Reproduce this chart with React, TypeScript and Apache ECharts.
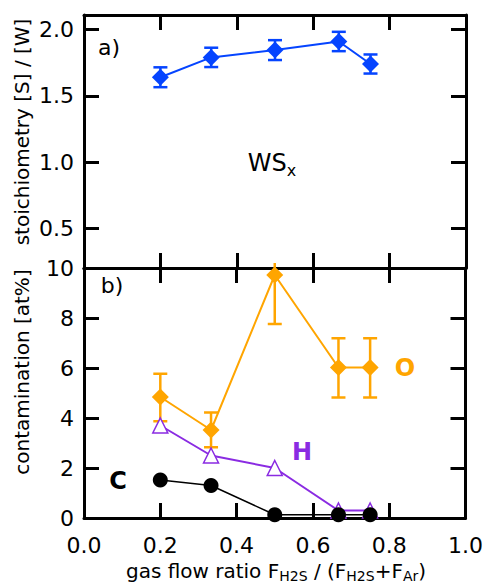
import React, { useEffect, useRef } from "react";
import * as echarts from "echarts";

const xVals = [0.2, 0.333, 0.5, 0.667, 0.75];
const wsRatio = [1.64, 1.79, 1.845, 1.91, 1.74];
const wsErr = [0.075, 0.073, 0.075, 0.073, 0.072];
const oVals = [4.84, 3.52, 9.72, 6.02, 6.02];
const oLow = [3.87, 2.83, 7.76, 4.82, 4.82];
const oHigh = [5.77, 4.22, 10.2, 7.19, 7.19];
const hVals = [3.7, 2.5, 2.0, 0.3, 0.3];
const cVals = [1.52, 1.3, 0.13, 0.13, 0.13];
const topYTicks = [0.5, 1.0, 1.5, 2.0];

const FONT = "DejaVu Sans";
const BLUE = "#0544ff";
const ORANGE = "#ffa500";
const PURPLE = "#8a2be2";

function errorRenderer(color: string, yMax: number) {
  return (params: any, api: any) => {
    const x = api.value(0);
    const lo = api.value(1);
    const hi = api.value(2);
    const pLo = api.coord([x, lo]);
    const pHi = api.coord([x, hi]);
    const half = 7;
    const st = { stroke: color, lineWidth: 2.5 };
    const children: any[] = [
      { type: "line", shape: { x1: pLo[0], y1: pLo[1], x2: pHi[0], y2: pHi[1] }, style: st },
      { type: "line", shape: { x1: pLo[0] - half, y1: pLo[1], x2: pLo[0] + half, y2: pLo[1] }, style: st },
    ];
    if (hi <= yMax) {
      children.push({ type: "line", shape: { x1: pHi[0] - half, y1: pHi[1], x2: pHi[0] + half, y2: pHi[1] }, style: st });
    }
    return { type: "group", children };
  };
}

export default function App() {
  const ref = useRef<HTMLDivElement>(null);
  useEffect(() => {
    if (!ref.current) return;
    const chart = echarts.init(ref.current, null, { renderer: "svg" });
    const axisLine = { onZero: false, lineStyle: { color: "#000", width: 3 } };
    const tick = { inside: true, length: 15, lineStyle: { color: "#000", width: 3 } };
    const lbl = { color: "#000", fontFamily: FONT, fontSize: 22 };
    const mkX = (grid: number, pos: string, show: boolean) => ({
      type: "value",
      gridIndex: grid,
      position: pos,
      min: 0,
      max: 1,
      interval: 0.2,
      axisLine,
      axisTick: tick,
      splitLine: { show: false },
      axisLabel: show
        ? { ...lbl, margin: 16, formatter: (v: number) => v.toFixed(1) }
        : { show: false },
    });
    const option: any = {
      animation: false,
      grid: [
        { left: 84, top: 15, width: 382, height: 253 },
        { left: 84, top: 268, width: 382, height: 250 },
      ],
      xAxis: [mkX(0, "bottom", false), mkX(0, "top", false), mkX(1, "bottom", true), mkX(1, "top", false)],
      yAxis: [
        {
          type: "value", gridIndex: 0, position: "left", min: 0.2, max: 2.11,
          axisLine, axisTick: { ...tick, customValues: topYTicks }, splitLine: { show: false },
          axisLabel: { ...lbl, margin: 10, customValues: topYTicks, formatter: (v: number) => v.toFixed(1) },
        },
        {
          type: "value", gridIndex: 0, position: "right", min: 0.2, max: 2.11,
          axisLine, axisTick: { ...tick, customValues: topYTicks }, splitLine: { show: false },
          axisLabel: { show: false },
        },
        {
          type: "value", gridIndex: 1, position: "left", min: 0, max: 10, interval: 2,
          axisLine, axisTick: tick, splitLine: { show: false },
          axisLabel: { ...lbl, margin: 10 },
        },
        {
          type: "value", gridIndex: 1, position: "right", min: 0, max: 10, interval: 2,
          axisLine, axisTick: tick, splitLine: { show: false },
          axisLabel: { show: false },
        },
      ],
      series: [
        {
          type: "custom", xAxisIndex: 0, yAxisIndex: 0, clip: false,
          renderItem: errorRenderer(BLUE, 2.11),
          encode: { x: 0, y: [1, 2] },
          data: xVals.map((x, i) => [x, wsRatio[i] - wsErr[i], wsRatio[i] + wsErr[i]]),
        },
        {
          type: "line", xAxisIndex: 0, yAxisIndex: 0,
          data: xVals.map((x, i) => [x, wsRatio[i]]),
          symbol: "diamond", symbolSize: 17,
          itemStyle: { color: BLUE }, lineStyle: { color: BLUE, width: 2 },
        },
        {
          type: "line", xAxisIndex: 2, yAxisIndex: 2,
          data: xVals.map((x, i) => [x, hVals[i]]),
          symbol: "triangle", symbolSize: 15,
          itemStyle: { color: "#fff", borderColor: PURPLE, borderWidth: 1.5 },
          lineStyle: { color: PURPLE, width: 2 },
        },
        {
          type: "line", xAxisIndex: 2, yAxisIndex: 2,
          data: xVals.map((x, i) => [x, cVals[i]]),
          symbol: "circle", symbolSize: 15,
          itemStyle: { color: "#000" }, lineStyle: { color: "#000", width: 1.5 },
        },
        {
          type: "custom", xAxisIndex: 2, yAxisIndex: 2, clip: false,
          renderItem: errorRenderer(ORANGE, 10),
          encode: { x: 0, y: [1, 2] },
          data: xVals.map((x, i) => [x, oLow[i], oHigh[i]]),
        },
        {
          type: "line", xAxisIndex: 2, yAxisIndex: 2,
          data: xVals.map((x, i) => [x, oVals[i]]),
          symbol: "diamond", symbolSize: 17,
          itemStyle: { color: ORANGE }, lineStyle: { color: ORANGE, width: 2 },
        },
      ],
      graphic: [
        {
          type: "text", x: 22, y: 132, rotation: Math.PI / 2,
          style: { text: "stoichiometry [S] / [W]", align: "center", verticalAlign: "middle", fontFamily: FONT, fontSize: 20, fill: "#000" },
        },
        {
          type: "text", x: 22, y: 372, rotation: Math.PI / 2,
          style: { text: "contamination [at%]", align: "center", verticalAlign: "middle", fontFamily: FONT, fontSize: 20, fill: "#000" },
        },
        {
          type: "text", x: 276, y: 571,
          style: {
            text: "{n|gas flow ratio F}{s|H2S}{n| / (F}{s|H2S}{n|+F}{s|Ar}{n|)}",
            align: "center", verticalAlign: "middle", fill: "#000",
            rich: {
              n: { fontFamily: FONT, fontSize: 20, lineHeight: 24, verticalAlign: "middle", fill: "#000" },
              s: { fontFamily: FONT, fontSize: 14, lineHeight: 14, verticalAlign: "bottom", fill: "#000" },
            },
          },
        },
        {
          type: "text", x: 272, y: 163,
          style: {
            text: "{n|WS}{s|x}", align: "center", verticalAlign: "middle", fill: "#000",
            rich: {
              n: { fontFamily: FONT, fontSize: 24, lineHeight: 30, verticalAlign: "middle", fill: "#000" },
              s: { fontFamily: FONT, fontSize: 16, lineHeight: 16, verticalAlign: "bottom", fill: "#000" },
            },
          },
        },
        { type: "text", x: 109, y: 47, style: { text: "a)", align: "center", verticalAlign: "middle", fontFamily: FONT, fontSize: 22, fill: "#000" } },
        { type: "text", x: 112, y: 285, style: { text: "b)", align: "center", verticalAlign: "middle", fontFamily: FONT, fontSize: 22, fill: "#000" } },
        { type: "text", x: 405, y: 368, style: { text: "O", align: "center", verticalAlign: "middle", fontFamily: FONT, fontSize: 24, fontWeight: "bold", fill: ORANGE } },
        { type: "text", x: 302, y: 452, style: { text: "H", align: "center", verticalAlign: "middle", fontFamily: FONT, fontSize: 24, fontWeight: "bold", fill: PURPLE } },
        { type: "text", x: 118, y: 481, style: { text: "C", align: "center", verticalAlign: "middle", fontFamily: FONT, fontSize: 24, fontWeight: "bold", fill: "#000" } },
      ],
    };
    chart.setOption(option);
    return () => chart.dispose();
  }, []);
  return (
    <div
      ref={ref}
      style={{ position: "fixed", left: 0, top: 0, width: 486, height: 587, background: "#fff" }}
    />
  );
}
